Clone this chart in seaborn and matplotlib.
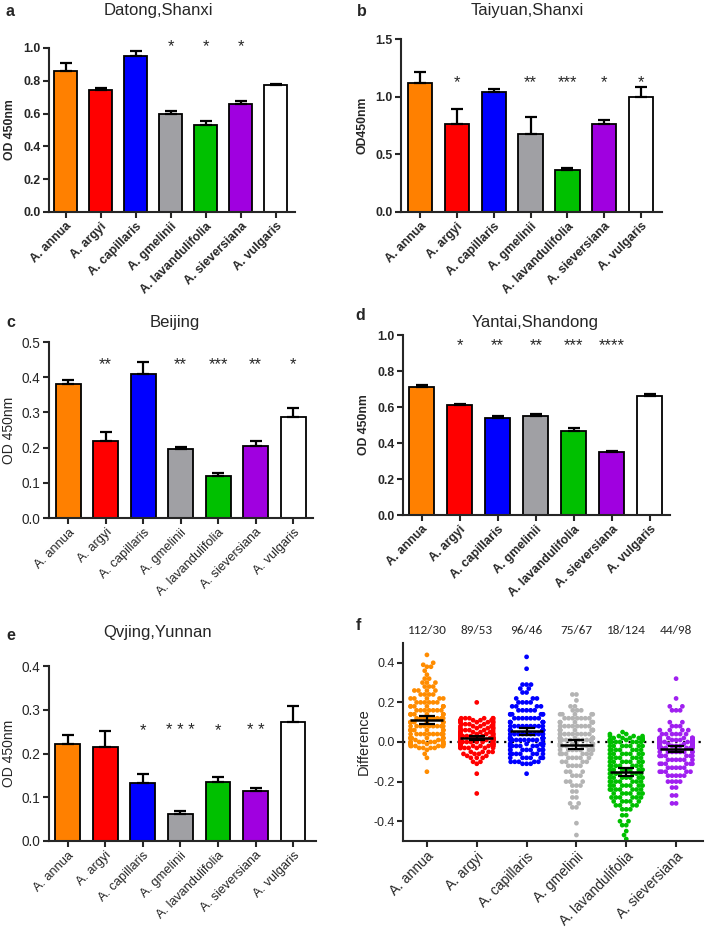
import warnings
import numpy as np
import pandas as pd
import matplotlib
matplotlib.use("Agg")
import matplotlib.pyplot as plt
from matplotlib.ticker import FormatStrFormatter
import seaborn as sns

warnings.filterwarnings("ignore")

species = ["A. annua", "A. argyi", "A. capillaris", "A. gmelinii",
           "A. lavandulifolia", "A. sieversiana", "A. vulgaris"]
bar_colors = ["#ff8000", "#ff0000", "#0000ff", "#a0a0a4", "#00c000", "#a000e0", "#ffffff"]
dot_colors = ["#ff8c00", "#ff0000", "#0000ff", "#b4b4b4", "#00c000", "#a020f0"]

# panel a-e: mean OD and SEM (upper bar only)
datong_mean = [0.861, 0.743, 0.949, 0.596, 0.533, 0.661, 0.776]
datong_sem = [0.047, 0.014, 0.031, 0.020, 0.022, 0.017, 0.006]
datong_sig = ["", "", "", "*", "*", "*", ""]

taiyuan_mean = [1.121, 0.762, 1.037, 0.675, 0.368, 0.762, 0.999]
taiyuan_sem = [0.095, 0.127, 0.032, 0.145, 0.017, 0.040, 0.087]
taiyuan_sig = ["", "*", "", "**", "***", "*", "*"]

beijing_mean = [0.381, 0.218, 0.410, 0.195, 0.120, 0.204, 0.288]
beijing_sem = [0.012, 0.025, 0.033, 0.008, 0.007, 0.016, 0.025]
beijing_sig = ["", "**", "", "**", "***", "**", "*"]

yantai_mean = [0.711, 0.611, 0.537, 0.548, 0.467, 0.348, 0.663]
yantai_sem = [0.011, 0.008, 0.011, 0.015, 0.014, 0.008, 0.009]
yantai_sig = ["", "*", "**", "**", "***", "****", ""]

qvjing_mean = [0.221, 0.215, 0.133, 0.061, 0.134, 0.114, 0.273]
qvjing_sem = [0.022, 0.037, 0.020, 0.007, 0.012, 0.008, 0.035]
qvjing_sig = ["", "", "*", "* * *", "*", "* *", ""]

# panel f: differences, read as value levels with number of dots at each level
annua_vals = [0.44, 0.40, 0.39, 0.38, 0.36, 0.34, 0.32, 0.30, 0.28, 0.26, 0.24, 0.22, 0.20, 0.18,
              0.16, 0.14, 0.12, 0.10, 0.08, 0.06, 0.04, 0.02, 0.01,
              0.0, -0.01, -0.02, -0.03, -0.04, -0.06, -0.08, -0.15]
annua_n = [1, 1, 1, 2, 1, 1, 2, 3, 3, 4, 4, 5, 6, 7, 7, 8, 8, 9, 9, 9, 9, 9, 3,
           8, 8, 6, 4, 1, 1, 1, 1]

argyi_vals = [0.20, 0.12, 0.11, 0.10, 0.09, 0.08, 0.07, 0.06, 0.05, 0.04, 0.03, 0.02, 0.01,
              0.0, -0.01, -0.02, -0.03, -0.05, -0.06, -0.07, -0.08, -0.10, -0.11, -0.16, -0.26]
argyi_n = [1, 6, 6, 6, 5, 5, 5, 6, 6, 7, 10, 13, 13,
           10, 10, 9, 7, 4, 3, 2, 3, 2, 1, 1, 1]

capillaris_vals = [0.43, 0.37, 0.29, 0.27, 0.25, 0.22, 0.20, 0.18, 0.16, 0.14, 0.12, 0.10, 0.08,
                   0.06, 0.04, 0.02, 0.01,
                   -0.01, -0.02, -0.04, -0.06, -0.08, -0.10, -0.11, -0.16]
capillaris_n = [1, 1, 3, 2, 2, 3, 4, 4, 5, 6, 7, 8, 9, 10, 11, 11, 9,
                8, 8, 8, 7, 6, 5, 3, 1]

gmelinii_vals = [0.24, 0.21, 0.18, 0.16, 0.14, 0.12, 0.10, 0.08, 0.06, 0.04, 0.02, 0.01,
                 -0.01, -0.02, -0.04, -0.06, -0.08, -0.10, -0.12, -0.15, -0.17, -0.20, -0.22,
                 -0.25, -0.28, -0.31, -0.33, -0.41, -0.47]
gmelinii_n = [2, 1, 2, 3, 5, 7, 8, 9, 10, 10, 10, 8,
              9, 9, 8, 6, 5, 4, 4, 3, 3, 3, 3, 2, 2, 2, 2, 1, 1]

lavandulifolia_vals = [0.05, 0.04, 0.03, 0.02, 0.01,
                       0.0, -0.02, -0.04, -0.06, -0.08, -0.10, -0.12, -0.14, -0.16, -0.18,
                       -0.20, -0.22, -0.24, -0.26, -0.28, -0.30, -0.32, -0.34, -0.37, -0.40,
                       -0.42, -0.45, -0.47, -0.49]
lavandulifolia_n = [1, 2, 4, 5, 6,
                    7, 7, 7, 7, 7, 7, 7, 7, 7, 7, 7, 7, 7, 6, 6, 5, 4, 3, 2, 2, 2, 1, 1, 1]

sieversiana_vals = [0.32, 0.22, 0.18, 0.16, 0.10, 0.08, 0.06, 0.04, 0.02, 0.01,
                    0.0, -0.01, -0.02, -0.03, -0.05, -0.07, -0.09, -0.11, -0.13, -0.15, -0.17,
                    -0.20, -0.23, -0.27, -0.31]
sieversiana_n = [1, 1, 2, 3, 2, 3, 4, 6, 10, 12,
                 12, 12, 12, 10, 8, 7, 6, 6, 5, 5, 5, 4, 2, 2, 2]

ratio_labels = ["112/30", "89/53", "96/46", "75/67", "18/124", "44/98"]

sns.set_style("ticks")
plt.rcParams["font.family"] = ["Liberation Sans", "DejaVu Sans"]

fig = plt.figure(figsize=(7.09, 9.41), dpi=100)
W, H = 709.0, 941.0


def add_ax(left, top, right, bottom):
    return fig.add_axes([left / W, 1 - bottom / H, (right - left) / W, (bottom - top) / H])


def style_ax(ax, bold, ytick_fs, xtick_fs):
    for s in ["top", "right"]:
        ax.spines[s].set_visible(False)
    for s in ["left", "bottom"]:
        ax.spines[s].set_linewidth(1.5)
    ax.tick_params(width=1.5, length=4, direction="out", pad=2)
    ax.tick_params(axis="y", labelsize=ytick_fs)
    ax.tick_params(axis="x", labelsize=xtick_fs)
    if bold:
        for lab in ax.get_yticklabels() + ax.get_xticklabels():
            lab.set_fontweight("bold")


def bar_panel(box, means, sems, sig, ylim, yticks, ylabel, bold, sig_y, xlim):
    ax = add_ax(*box)
    sns.barplot(x=species, y=means, hue=species, palette=bar_colors, legend=False,
                saturation=1, width=0.66, edgecolor="black", linewidth=1.3,
                errorbar=None, ax=ax)
    ax.errorbar(range(len(species)), means, yerr=[np.zeros(len(sems)), sems], fmt="none",
                ecolor="black", elinewidth=1.6, capsize=4.5, capthick=1.6, zorder=3)
    ax.set_ylim(*ylim)
    ax.set_xlim(*xlim)
    ax.set_yticks(yticks)
    ax.yaxis.set_major_formatter(FormatStrFormatter("%.1f"))
    ax.set_xticks(range(len(species)))
    ax.set_xticklabels(species, rotation=45, ha="right", rotation_mode="anchor")
    ax.set_xlabel("")
    if bold:
        ax.set_ylabel(ylabel, fontsize=8.8, fontweight="bold", labelpad=5)
        style_ax(ax, True, 8.8, 8.8)
    else:
        ax.set_ylabel(ylabel, fontsize=10, labelpad=4)
        style_ax(ax, False, 9.8, 9.2)
    for i, s in enumerate(sig):
        if s:
            ax.text(i, sig_y, s, ha="center", va="center", fontsize=12, clip_on=False)
    return ax


bar_panel((49, 48, 295, 212), datong_mean, datong_sem, datong_sig, (0, 1.0),
          [0, 0.2, 0.4, 0.6, 0.8, 1.0], "OD 450nm", True, 1.01, (-0.48, 6.55))
bar_panel((401, 39, 662, 212), taiyuan_mean, taiyuan_sem, taiyuan_sig, (0, 1.5),
          [0, 0.5, 1.0, 1.5], "OD450nm", True, 1.12, (-0.52, 6.57))
bar_panel((49, 342, 313, 518), beijing_mean, beijing_sem, beijing_sig, (0, 0.5),
          [0, 0.1, 0.2, 0.3, 0.4, 0.5], "OD 450nm", False, 0.437, (-0.51, 6.53))
bar_panel((403, 335, 670, 515), yantai_mean, yantai_sem, yantai_sig, (0, 1.0),
          [0, 0.2, 0.4, 0.6, 0.8, 1.0], "OD 450nm", True, 0.94, (-0.49, 6.53))
bar_panel((49, 666, 316, 841), qvjing_mean, qvjing_sem, qvjing_sig, (0, 0.4),
          [0, 0.1, 0.2, 0.3, 0.4], "OD 450nm", False, 0.252, (-0.5, 6.61))

# panel f
f_species = species[:6]
f_vals = [annua_vals, argyi_vals, capillaris_vals, gmelinii_vals, lavandulifolia_vals, sieversiana_vals]
f_counts = [annua_n, argyi_n, capillaris_n, gmelinii_n, lavandulifolia_n, sieversiana_n]
rows = []
for sp, v, n in zip(f_species, f_vals, f_counts):
    for val in np.repeat(v, n):
        rows.append((sp, val))
df = pd.DataFrame(rows, columns=["species", "diff"])

ax = add_ax(403, 643, 703, 841)
ax.set_ylim(-0.5, 0.5)
ax.set_xlim(-0.48, 5.54)
ax.axhline(0, color="black", linestyle=(0, (1, 2.5)), linewidth=1.6, zorder=1)
sns.swarmplot(data=df, x="species", y="diff", hue="species", order=f_species,
              hue_order=f_species, palette=dot_colors, size=3.4,
              legend=False, ax=ax, zorder=2)
ax.set_ylim(-0.5, 0.5)
ax.set_xlim(-0.48, 5.54)
# narrow the swarms a little (reference columns are ~0.66 wide)
fig.canvas.draw()
for coll in list(ax.collections):
    offs = np.asarray(coll.get_offsets()).copy()
    if len(offs) == 0:
        continue
    cx = np.round(offs[:, 0].mean())
    offs[:, 0] = cx + (offs[:, 0] - cx) * 0.82
    if "draw" in coll.__dict__:
        del coll.draw
    coll.set_offsets(offs)

stats = df.groupby("species", sort=False)["diff"].agg(["mean", "sem"]).reindex(f_species)
ci = 1.96 * stats["sem"]
xs = np.arange(len(f_species))
ax.hlines(stats["mean"], xs - 0.33, xs + 0.33, color="black", linewidth=1.8, zorder=4)
ax.errorbar(xs, stats["mean"], yerr=ci, fmt="none", ecolor="black",
            elinewidth=1.6, capsize=5.5, capthick=1.6, zorder=4)
ax.set_yticks([-0.4, -0.2, 0.0, 0.2, 0.4])
ax.yaxis.set_major_formatter(FormatStrFormatter("%.1f"))
ax.set_xticks(xs)
ax.set_xticklabels(f_species, rotation=45, ha="right", rotation_mode="anchor")
ax.set_xlabel("")
ax.set_ylabel("Difference", fontsize=10.5, labelpad=2)
style_ax(ax, False, 9, 10)
for x, t in zip(xs, ratio_labels):
    ax.text(x, 0.535, t, ha="center", va="bottom", fontsize=9.5,
            family=["Carlito", "Liberation Sans"], clip_on=False)

# titles and panel letters
titles = [("Datong,Shanxi", 158, 10), ("Taiyuan,Shanxi", 527, 10), ("Beijing", 175, 322),
          ("Yantai,Shandong", 535, 322), ("Qvjing,Yunnan", 158, 633)]
for t, x, y in titles:
    fig.text(x / W, 1 - y / H, t, ha="center", va="center", fontsize=12)
letters = [("a", 10, 12), ("b", 362, 12), ("c", 11, 322), ("d", 360, 315), ("e", 11, 635), ("f", 358, 625)]
for t, x, y in letters:
    fig.text(x / W, 1 - y / H, t, ha="center", va="center", fontsize=11.5, fontweight="bold")

fig.savefig("out.png", dpi=100)
